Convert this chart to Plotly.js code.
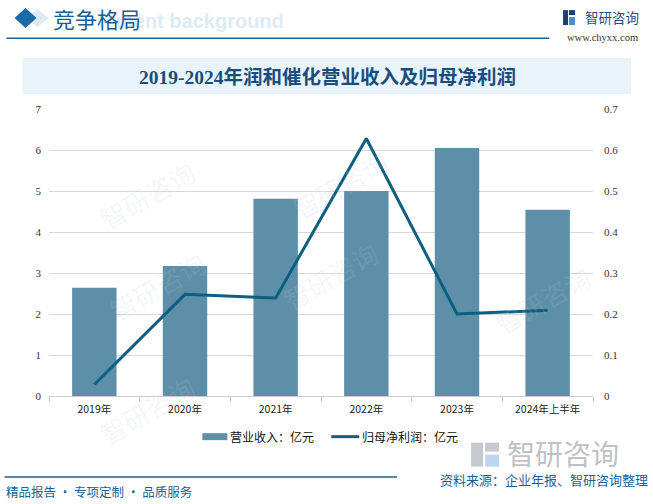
<!DOCTYPE html>
<html>
<head>
<meta charset="utf-8">
<script src="https://cdn.plot.ly/plotly-3.0.1.min.js"></script>
<style>html,body{margin:0;padding:0;background:#fff;}#chart{width:653px;height:504px;}</style>
</head>
<body>
<div id="chart"></div>
<script>
const categories = ['2019年', '2020年', '2021年', '2022年', '2023年', '2024年上半年'];
const revenue = [2.64, 3.17, 4.81, 5.00, 6.05, 4.54];
const netProfit = [0.028, 0.248, 0.239, 0.628, 0.200, 0.209];
const seriesNames = ['营业收入：亿元', '归母净利润：亿元'];
const leftTicks = [0, 1, 2, 3, 4, 5, 6, 7];
const rightTicks = [0, 0.1, 0.2, 0.3, 0.4, 0.5, 0.6, 0.7];
const rightTickText = ['0', '0.1', '0.2', '0.3', '0.4', '0.5', '0.6', '0.7'];

const L = 48.5, R = 593, T = 109, B = 396.3;
const W = R - L, H = B - T;
const X = px => (px - L) / W;
const Y = py => (B - py) / H;

const blue = '#1b5f95';
const barColor = '#5d90a8';
const lineColor = '#0c5f80';
const cjk = '"Noto Sans CJK SC", "Noto Sans", sans-serif';

const traces = [
  {
    type: 'bar', name: seriesNames[0], x: categories, y: revenue,
    marker: {color: barColor}, width: 0.49, yaxis: 'y'
  },
  {
    type: 'scatter', mode: 'lines', name: seriesNames[1], x: categories, y: netProfit,
    line: {color: lineColor, width: 3}, yaxis: 'y2'
  }
];

const shapes = [
  // title band
  {type: 'rect', xref: 'paper', yref: 'paper', x0: X(22), x1: X(631), y0: Y(94), y1: Y(58),
   fillcolor: '#e8f3fb', line: {width: 0}, layer: 'below'},
  // header line
  {type: 'line', xref: 'paper', yref: 'paper', x0: X(6), x1: X(549), y0: Y(38.3), y1: Y(38.3),
   line: {color: blue, width: 1.5}},
  // footer line
  {type: 'line', xref: 'paper', yref: 'paper', x0: X(4), x1: X(397), y0: Y(477.3), y1: Y(477.3),
   line: {color: blue, width: 1.5}},
  // ghost diamond
  {type: 'path', xref: 'paper', yref: 'paper',
   path: `M ${X(37)} ${Y(9)} L ${X(48)} ${Y(18)} L ${X(37)} ${Y(27)} L ${X(26)} ${Y(18)} Z`,
   fillcolor: '#dceaf5', line: {width: 0}},
  // diamond
  {type: 'path', xref: 'paper', yref: 'paper',
   path: `M ${X(25)} ${Y(8)} L ${X(36)} ${Y(18)} L ${X(25)} ${Y(28)} L ${X(14)} ${Y(18)} Z`,
   fillcolor: '#1a6aa8', line: {width: 0}},
  // top-right logo icon
  {type: 'rect', xref: 'paper', yref: 'paper', x0: X(563), x1: X(568), y0: Y(25), y1: Y(10),
   fillcolor: '#1b3f7a', line: {width: 0}},
  {type: 'rect', xref: 'paper', yref: 'paper', x0: X(569), x1: X(575), y0: Y(25), y1: Y(17),
   fillcolor: '#4a90d0', line: {width: 0}},
  {type: 'rect', xref: 'paper', yref: 'paper', x0: X(569), x1: X(575), y0: Y(15), y1: Y(10),
   fillcolor: '#1b3f7a', line: {width: 0}},
  // footer faded logo icon
  {type: 'rect', xref: 'paper', yref: 'paper', x0: X(471), x1: X(483), y0: Y(467), y1: Y(443),
   fillcolor: '#c6cad0', line: {width: 0}},
  {type: 'rect', xref: 'paper', yref: 'paper', x0: X(485), x1: X(499), y0: Y(467), y1: Y(455),
   fillcolor: '#bcd6ee', line: {width: 0}},
  {type: 'rect', xref: 'paper', yref: 'paper', x0: X(485), x1: X(499), y0: Y(452), y1: Y(443),
   fillcolor: '#c6cad0', line: {width: 0}},
  // custom legend symbols
  {type: 'rect', xref: 'paper', yref: 'paper', x0: X(202), x1: X(227), y0: Y(440.5), y1: Y(433.5),
   fillcolor: barColor, line: {width: 0}},
  {type: 'line', xref: 'paper', yref: 'paper', x0: X(331), x1: X(359), y0: Y(437), y1: Y(437),
   line: {color: lineColor, width: 3}}
];

const annotations = [
  {text: '<b>ment background</b>', xref: 'paper', yref: 'paper', x: X(286), y: Y(21),
   xanchor: 'right', yanchor: 'middle', showarrow: false,
   font: {family: 'Liberation Sans, Arial', size: 20, color: '#dcebf6'}},
  {text: '竞争格局', xref: 'paper', yref: 'paper', x: X(51), y: Y(18),
   xanchor: 'left', yanchor: 'middle', showarrow: false,
   font: {family: cjk, size: 22, color: blue}},
  {text: '智研咨询', xref: 'paper', yref: 'paper', x: X(583), y: Y(17),
   xanchor: 'left', yanchor: 'middle', showarrow: false,
   font: {family: cjk, size: 13.5, color: '#1b4f8a'}},
  {text: 'www.chyxx.com', xref: 'paper', yref: 'paper', x: X(640), y: Y(37),
   xanchor: 'right', yanchor: 'middle', showarrow: false,
   font: {family: 'Liberation Serif, serif', size: 10.5, color: '#333'}},
  {text: '<b>2019-2024年润和催化营业收入及归母净利润</b>', xref: 'paper', yref: 'paper', x: X(327), y: Y(77),
   xanchor: 'center', yanchor: 'middle', showarrow: false,
   font: {family: '"Liberation Serif", "Noto Sans CJK SC", serif', size: 19.5, color: '#1a4d7c'}},
  {text: '智研咨询', xref: 'paper', yref: 'paper', x: X(505), y: Y(453),
   xanchor: 'left', yanchor: 'middle', showarrow: false,
   font: {family: cjk, size: 28, color: '#bfc1c5'}},
  {text: '资料来源：企业年报、智研咨询整理', xref: 'paper', yref: 'paper', x: X(650), y: Y(480),
   xanchor: 'right', yanchor: 'middle', showarrow: false,
   font: {family: cjk, size: 13, color: blue}},
  {text: '精品报告 · 专项定制 · 品质服务', xref: 'paper', yref: 'paper', x: X(3), y: Y(492),
   xanchor: 'left', yanchor: 'middle', showarrow: false,
   font: {family: cjk, size: 12.5, color: blue}},
  // custom legend labels
  {text: seriesNames[0], xref: 'paper', yref: 'paper', x: X(228), y: Y(437),
   xanchor: 'left', yanchor: 'middle', showarrow: false,
   font: {family: cjk, size: 12, color: '#111'}},
  {text: seriesNames[1], xref: 'paper', yref: 'paper', x: X(360), y: Y(437),
   xanchor: 'left', yanchor: 'middle', showarrow: false,
   font: {family: cjk, size: 12, color: '#111'}}
];

// faint watermarks
const wm = [[90, 150], [340, 140], [100, 330], [330, 320], [600, 300], [90, 455]];
wm.forEach(p => annotations.push({
  text: '智研咨询', xref: 'paper', yref: 'paper', x: X(p[0]), y: Y(p[1]), textangle: -30,
  showarrow: false, font: {family: cjk, size: 26, color: 'rgba(190,200,210,0.16)'}
}));

const layout = {
  width: 653, height: 504,
  margin: {l: L, r: 653 - R, t: T, b: 504 - B, pad: 0},
  paper_bgcolor: '#ffffff', plot_bgcolor: 'rgba(0,0,0,0)',
  showlegend: false,
  xaxis: {
    type: 'category', tickson: 'boundaries', ticks: 'outside', ticklen: 5, tickcolor: '#cccccc',
    showline: true, linecolor: '#cccccc', linewidth: 1, showgrid: false, ticklabelstandoff: 3,
    tickfont: {family: cjk, size: 10.5, color: '#222'}
  },
  yaxis: {
    range: [0, 7], tickvals: leftTicks, showgrid: true, gridcolor: '#d9d9d9', gridwidth: 1,
    zeroline: false, showline: false, ticks: '', ticklabelstandoff: 7,
    tickfont: {family: 'Liberation Serif, serif', size: 11, color: '#333'}
  },
  yaxis2: {
    range: [0, 0.7], tickvals: rightTicks, ticktext: rightTickText, overlaying: 'y', side: 'right',
    showgrid: false, zeroline: false, showline: false, ticks: '', ticklabelstandoff: 10,
    tickfont: {family: 'Liberation Serif, serif', size: 11, color: '#333'}
  },
  shapes: shapes,
  annotations: annotations
};

Plotly.newPlot('chart', traces, layout, {displayModeBar: false, staticPlot: true});
</script>
</body>
</html>
